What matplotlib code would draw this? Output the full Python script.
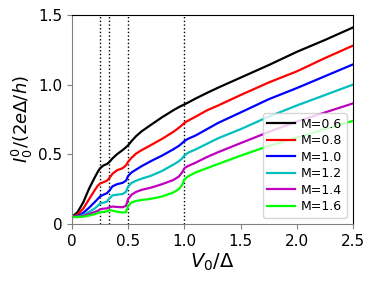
import matplotlib
matplotlib.use("Agg")
import matplotlib.pyplot as plt

x = [0, 0.05, 0.1, 0.15, 0.2, 0.23, 0.25, 0.28, 0.31, 0.333, 0.36, 0.4, 0.45, 0.48,
     0.5, 0.53, 0.57, 0.62, 0.7, 0.8, 0.9, 0.95, 0.98, 1.0, 1.03, 1.1, 1.2, 1.3,
     1.5, 1.75, 2.0, 2.25, 2.5]

m06 = [0.05, 0.085, 0.155, 0.25, 0.33, 0.375, 0.40, 0.42, 0.43, 0.445, 0.47, 0.50, 0.53, 0.55,
       0.565, 0.595, 0.63, 0.665, 0.71, 0.765, 0.815, 0.838, 0.85, 0.858, 0.87, 0.90, 0.94, 0.978,
       1.05, 1.14, 1.235, 1.32, 1.41]
m08 = [0.05, 0.068, 0.11, 0.175, 0.24, 0.275, 0.29, 0.30, 0.31, 0.33, 0.36, 0.385, 0.40, 0.42,
       0.447, 0.475, 0.505, 0.53, 0.565, 0.61, 0.66, 0.69, 0.71, 0.725, 0.74, 0.77, 0.815, 0.85,
       0.925, 1.015, 1.095, 1.19, 1.28]
m10 = [0.05, 0.055, 0.08, 0.115, 0.155, 0.18, 0.198, 0.21, 0.22, 0.24, 0.27, 0.285, 0.295, 0.31,
       0.345, 0.37, 0.39, 0.415, 0.45, 0.49, 0.535, 0.56, 0.58, 0.595, 0.61, 0.635, 0.68, 0.725,
       0.80, 0.895, 0.975, 1.06, 1.145]
m12 = [0.05, 0.052, 0.065, 0.085, 0.11, 0.13, 0.148, 0.152, 0.16, 0.184, 0.205, 0.21, 0.215, 0.23,
       0.27, 0.295, 0.31, 0.325, 0.345, 0.38, 0.425, 0.45, 0.47, 0.49, 0.51, 0.535, 0.575, 0.615,
       0.68, 0.77, 0.85, 0.925, 1.0]
m14 = [0.05, 0.05, 0.058, 0.07, 0.085, 0.095, 0.105, 0.11, 0.112, 0.12, 0.125, 0.122, 0.12, 0.13,
       0.18, 0.21, 0.23, 0.245, 0.26, 0.285, 0.315, 0.34, 0.37, 0.40, 0.415, 0.44, 0.48, 0.515,
       0.58, 0.66, 0.735, 0.80, 0.865]
m16 = [0.05, 0.05, 0.052, 0.06, 0.07, 0.078, 0.085, 0.086, 0.09, 0.10, 0.095, 0.088, 0.082, 0.085,
       0.13, 0.155, 0.165, 0.172, 0.18, 0.197, 0.225, 0.25, 0.28, 0.32, 0.34, 0.37, 0.40, 0.43,
       0.49, 0.56, 0.62, 0.68, 0.74]

series = [m06, m08, m10, m12, m14, m16]
labels = ["M=0.6", "M=0.8", "M=1.0", "M=1.2", "M=1.4", "M=1.6"]
colors = ["k", "r", "b", "c", "m", "lime"]
vlines = [0.25, 1/3, 0.5, 1.0]
xticks = [0, 0.5, 1.0, 1.5, 2.0, 2.5]
xticklabels = ["0", "0.5", "1.0", "1.5", "2.0", "2.5"]
yticks = [0, 0.5, 1.0, 1.5]
yticklabels = ["0", "0.5", "1.0", "1.5"]

fig = plt.figure(figsize=(3.74, 2.81), dpi=100)
ax = fig.add_axes([0.1925, 0.203, 0.7515, 0.744])

for v in vlines:
    ax.axvline(v, color="k", linestyle=":", linewidth=1.0)
for ys, lab, c in zip(series, labels, colors):
    ax.plot(x, ys, color=c, linewidth=1.6, label=lab)

ax.set_xlim(0, 2.5)
ax.set_ylim(0, 1.5)
ax.set_xticks(xticks)
ax.set_xticklabels(xticklabels)
ax.set_yticks(yticks)
ax.set_yticklabels(yticklabels)
ax.tick_params(labelsize=11, color="gray")
for s in ["left", "bottom"]:
    ax.spines[s].set_color("gray")
ax.set_xlabel(r"$V_0/\Delta$", fontsize=14, labelpad=2)
ax.set_ylabel(r"$I_0^0/(2e\Delta/h)$", fontsize=13, labelpad=2)
ax.legend(loc="lower right", fontsize=9, handlelength=2.2, handletextpad=0.5,
          borderaxespad=0.5, labelspacing=0.28, borderpad=0.35)

fig.savefig("out.png", dpi=100)
